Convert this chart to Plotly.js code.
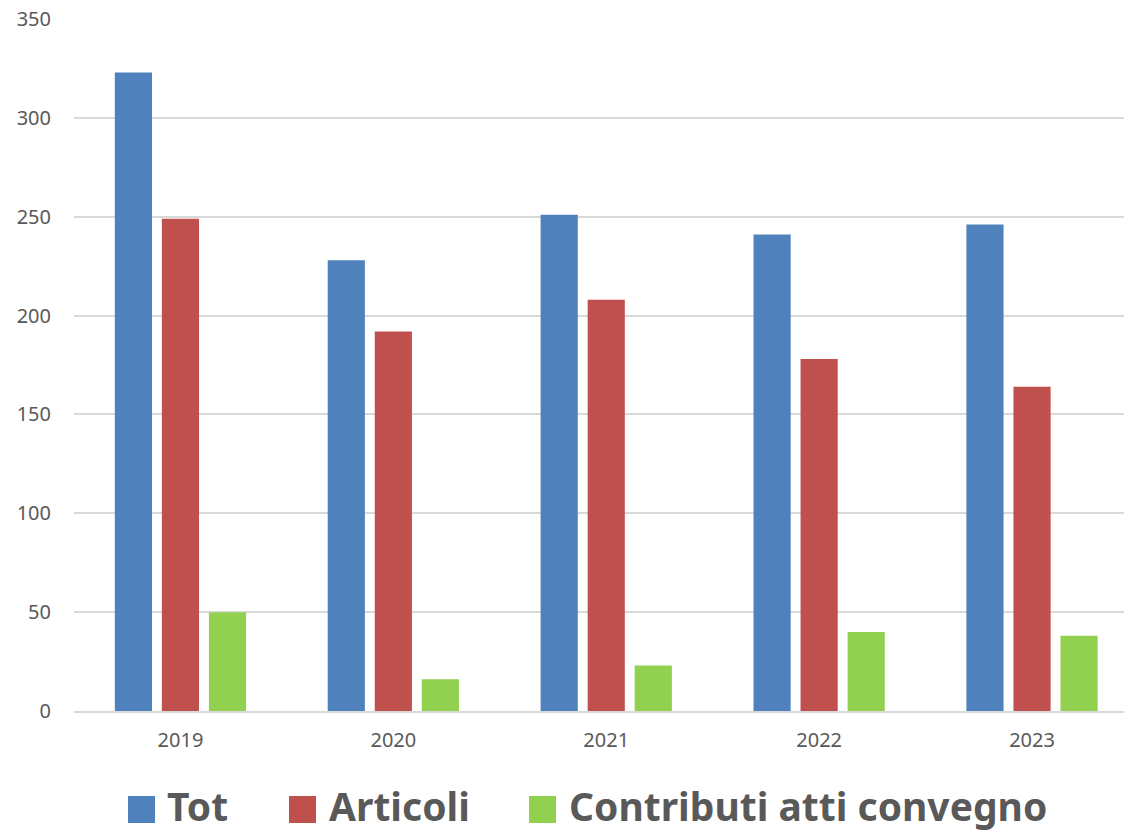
<!DOCTYPE html>
<html>
<head>
<meta charset="utf-8">
<script src="https://cdn.plot.ly/plotly-3.0.1.min.js"></script>
<style>
html,body{margin:0;padding:0;background:#fff;}
#chart{width:1124px;height:832px;}
</style>
</head>
<body>
<div id="chart"></div>
<script>
const years = ["2019", "2020", "2021", "2022", "2023"];
const tot = [323, 228, 251, 241, 246];
const articoli = [249, 192, 208, 178, 164];
const contributi = [50, 16, 23, 40, 38];
const seriesNames = ["Tot", "Articoli", "Contributi atti convegno"];
const seriesColors = ["#4f81bd", "#c0504d", "#92d050"];
const yTicks = [0, 50, 100, 150, 200, 250, 300, 350];

const W = 1124, H = 832;
const M = {l: 74, r: 0, t: 19, b: 121};
const plotW = W - M.l - M.r, plotH = H - M.t - M.b;
const px2fx = px => (px - M.l) / plotW;
const py2fy = py => (H - M.b - py) / plotH;

const seriesValues = [tot, articoli, contributi];
const traces = seriesValues.map((vals, i) => ({
  type: "bar",
  name: seriesNames[i],
  x: years,
  y: vals,
  marker: {color: seriesColors[i]},
  hoverinfo: "x+y+name"
}));

// custom legend (large square swatches + bold labels), placed below the axis
const legendSwatchX = [128, 289, 529];
const legendTextX = [165, 327, 567];
const swatch = 27;
const legendTop = 796;
const shapes = seriesNames.map((n, i) => ({
  type: "rect",
  xref: "paper", yref: "paper",
  x0: px2fx(legendSwatchX[i]), x1: px2fx(legendSwatchX[i] + swatch),
  y0: py2fy(legendTop + swatch), y1: py2fy(legendTop),
  fillcolor: seriesColors[i],
  line: {width: 0}
}));
const annotations = seriesNames.map((n, i) => ({
  xref: "paper", yref: "paper",
  x: px2fx(legendTextX[i]), y: py2fy(805),
  xanchor: "left", yanchor: "middle",
  text: "<b>" + n + "</b>",
  showarrow: false,
  font: {size: 39, color: "#595959", family: "'Noto Sans', 'Open Sans', sans-serif"}
}));

const layout = {
  width: W,
  height: H,
  margin: {l: M.l, r: M.r, t: M.t, b: M.b, autoexpand: false},
  paper_bgcolor: "#ffffff",
  plot_bgcolor: "#ffffff",
  font: {family: "'Noto Sans', 'Open Sans', sans-serif", color: "#595959", size: 20},
  barmode: "group",
  bargap: 0.337,
  bargroupgap: 0.21,
  showlegend: false,
  xaxis: {
    type: "category",
    range: [-0.5, 4.432],
    showgrid: false,
    showline: true,
    linecolor: "#d9d9d9",
    linewidth: 2,
    ticks: "",
    ticklabelstandoff: 10,
    tickfont: {size: 20, color: "#595959"},
    fixedrange: true
  },
  yaxis: {
    range: [0, 350],
    tickvals: yTicks,
    ticktext: yTicks.map(String),
    showgrid: true,
    gridcolor: "#d9d9d9",
    gridwidth: 2,
    zeroline: false,
    showline: false,
    ticks: "",
    ticklabelstandoff: 22,
    tickfont: {size: 20, color: "#595959"},
    fixedrange: true
  },
  shapes: shapes,
  annotations: annotations
};

Plotly.newPlot("chart", traces, layout, {displayModeBar: false, staticPlot: true});
</script>
</body>
</html>
